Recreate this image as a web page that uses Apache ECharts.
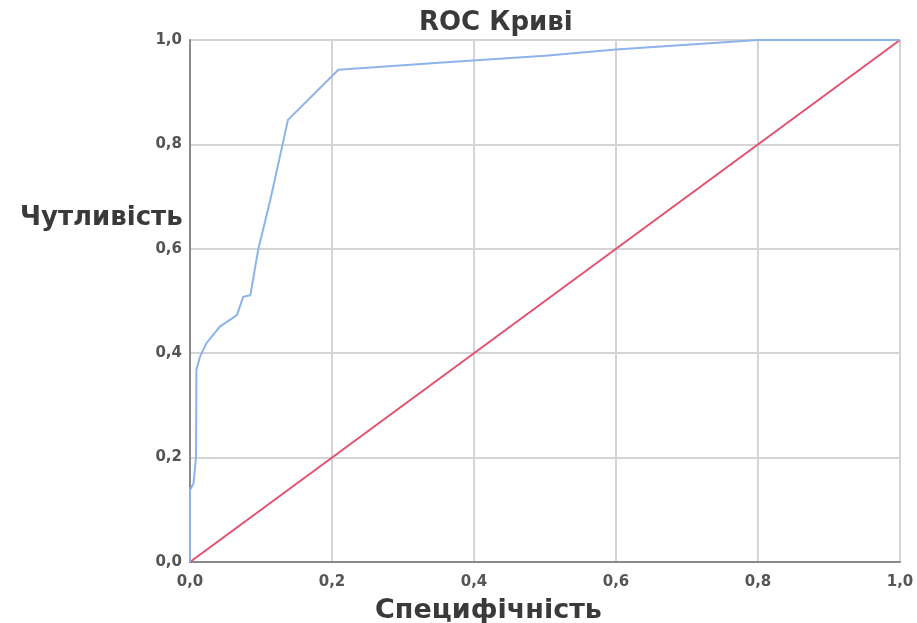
<!DOCTYPE html>
<html><head><meta charset="utf-8">
<script src="https://cdn.jsdelivr.net/npm/echarts@6/dist/echarts.min.js"></script>
<style>html,body{margin:0;padding:0;background:#fff}#c{width:917px;height:623px}</style>
</head><body><div id="c"></div>
<script>
// ROC curve: [1 - specificity, sensitivity]
const rocX = [0, 0, 0.005, 0.0085, 0.009, 0.014, 0.023, 0.042, 0.066, 0.075, 0.085, 0.096, 0.113, 0.138, 0.209, 0.366, 0.5, 0.6, 0.7, 0.8, 1.0];
const rocY = [0, 0.138, 0.151, 0.202, 0.368, 0.393, 0.419, 0.451, 0.473, 0.508, 0.511, 0.598, 0.693, 0.847, 0.943, 0.958, 0.970, 0.982, 0.991, 1.0, 1.0];
const refX = [0, 1];
const refY = [0, 1];

const chart = echarts.init(document.getElementById('c'));
const fmt = v => v.toFixed(1).replace('.', ',');
const nameStyle = {fontFamily: 'DejaVu Sans', fontWeight: 'bold', color: '#3a3a3a'};
chart.setOption({
  backgroundColor: '#fff',
  animation: false,
  title: [
    {text: 'ROC Криві', left: 414, top: 5,
     textStyle: Object.assign({fontSize: 26}, nameStyle)},
    {text: 'Чутливість', left: 15, top: 200,
     textStyle: Object.assign({fontSize: 26}, nameStyle)},
    {text: 'Специфічність', left: 370, top: 592,
     textStyle: Object.assign({fontSize: 27}, nameStyle)}
  ],
  grid: {left: 190, right: 17, top: 40, bottom: 61},
  xAxis: {
    type: 'value', min: 0, max: 1, interval: 0.2,
    axisLine: {lineStyle: {color: '#8a8a8a', width: 2}},
    axisTick: {show: false},
    axisLabel: {formatter: fmt, fontFamily: 'DejaVu Sans', fontWeight: 'bold', fontSize: 15, color: '#555', margin: 13},
    splitLine: {show: true, lineStyle: {color: '#d4d4d4', width: 2}}
  },
  yAxis: {
    type: 'value', min: 0, max: 1, interval: 0.2,
    axisLine: {show: true, lineStyle: {color: '#8a8a8a', width: 2}},
    axisTick: {show: false},
    axisLabel: {formatter: fmt, fontFamily: 'DejaVu Sans', fontWeight: 'bold', fontSize: 15, color: '#555', margin: 8, padding: [8, 0, 0, 0]},
    splitLine: {show: true, lineStyle: {color: '#d4d4d4', width: 2}}
  },
  series: [
    {type: 'line', data: refX.map((x, i) => [x, refY[i]]), symbol: 'none',
     lineStyle: {color: '#e5506e', width: 2}},
    {type: 'line', data: rocX.map((x, i) => [x, rocY[i]]), symbol: 'none',
     lineStyle: {color: '#8db4ea', width: 2}}
  ]
});
</script></body></html>
